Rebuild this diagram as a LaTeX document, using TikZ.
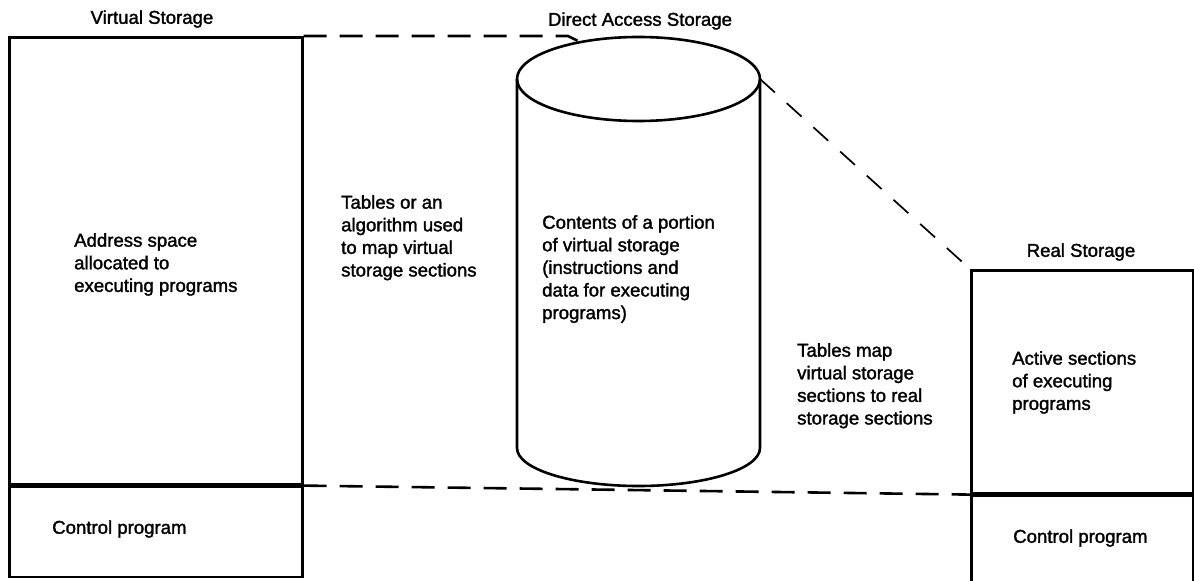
\documentclass[tikz,border=0pt]{standalone}
\usepackage{fontspec}
\setmainfont{Liberation Sans}[FakeBold=1.6]
\begin{document}
\begin{tikzpicture}[x=1bp,y=-1bp,
  box/.style={draw, line width=2.6bp, inner sep=0, anchor=north west},
  cylline/.style={line width=2.6bp},
  dline/.style={line width=2.6bp, dash pattern=on 23bp off 13bp},
  dthin/.style={line width=1.7bp, dash pattern=on 20bp off 16bp},
  txt/.style={inner sep=0, anchor=north west, align=left, font=\fontsize{18.6bp}{22.6bp}\selectfont},
  lbl/.style={inner sep=0, font=\fontsize{18.6bp}{22.6bp}\selectfont}]
\useasboundingbox (0,0) rectangle (1194,581);
% Virtual storage
\node[box, minimum width=293bp, minimum height=447bp] (vmain) at (8,36) {};
\node[box, minimum width=293bp, minimum height=90bp] (vctl) at (vmain.south west) {};
% Real storage
\node[box, minimum width=222bp, minimum height=223bp] (rmain) at (970,269) {};
\node[box, minimum width=222bp, minimum height=86bp] (rctl) at (rmain.south west) {};
% Cylinder
\coordinate (cyltop) at (580,42);
\coordinate (cylright) at (760,79);
\draw[cylline] (638.5,79) ellipse [x radius=121.5bp, y radius=42bp];
\draw[cylline] (517,79) -- (517,448) arc[start angle=180, end angle=360, x radius=121.5bp, y radius=38bp] -- (cylright);
% Dashed connectors
\draw[dline] (vmain.north east) -- (568,36) -- (cyltop);
\draw[dline] (vctl.north east) -- (rctl.north west);
\draw[dthin] (cylright) -- (rmain.north west);
% Labels
\node[lbl] (vlabel) at (152,19) {Virtual Storage};
\node[lbl] (dlabel) at (640,21) {Direct Access Storage};
\node[lbl] (rlabel) at (1081,252) {Real Storage};
% Texts
\node[txt] (vtext) at (74,233) {Address space\\allocated to\\executing programs};
\node[txt] (ttext) at (341,195) {Tables or an\\algorithm used\\to map virtual\\storage sections};
\node[txt] (ctext) at (542,215) {Contents of a portion\\of virtual storage\\(instructions and\\data for executing\\programs)};
\node[txt] (mtext) at (797,343) {Tables map\\virtual storage\\sections to real\\storage sections};
\node[txt] (atext) at (1012,351) {Active sections\\of executing\\programs};
\node[lbl, anchor=west] (vctltext) at (52,529) {Control program};
\node[lbl, anchor=west] (rctltext) at (1013,538) {Control program};
\end{tikzpicture}
\end{document}
